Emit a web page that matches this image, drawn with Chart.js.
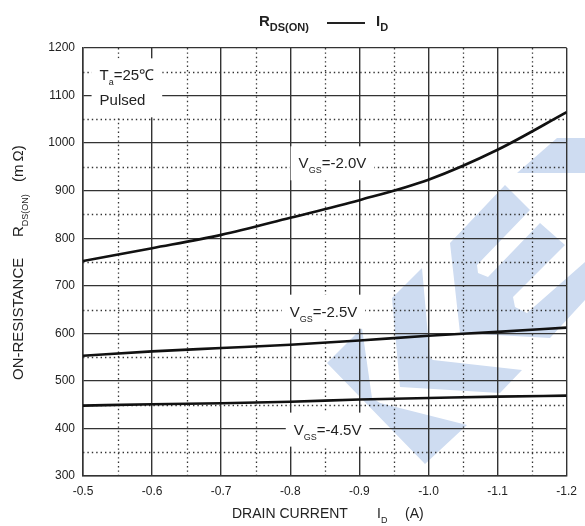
<!DOCTYPE html>
<html>
<head>
<meta charset="utf-8">
<script src="https://cdn.jsdelivr.net/npm/chart.js@4/dist/chart.umd.min.js"></script>
<style>
  html, body { margin: 0; padding: 0; background: #fff; }
  #wrap { position: relative; width: 585px; height: 526px; }
</style>
</head>
<body>
<div id="wrap"><canvas id="rdsChart"></canvas></div>
<script>
// R_DS(ON) vs I_D curves

const currents = [-0.5, -0.6, -0.7, -0.8, -0.9, -1.0, -1.1, -1.2];
const rdsVgs20 = [752, 779, 807, 843, 880, 923, 986, 1065];
const rdsVgs25 = [553, 562, 569, 576, 585, 595, 603, 612];
const rdsVgs45 = [448, 451, 453, 456, 461, 464, 467, 469];

const xTicks = [-0.5, -0.6, -0.7, -0.8, -0.9, -1.0, -1.1, -1.2];
const yTicks = [300, 400, 500, 600, 700, 800, 900, 1000, 1100, 1200];

const FONT = "'Liberation Sans', Arial, sans-serif";
const INK = '#222';

// in-plot labels (anchor in data units = text baseline), parts: [text, isSubscript]
const notes = [
    { at: [-0.524, 1132], align: 'left', rows: [[['T'], ['a', 1], ['=25\u2103']], [['Pulsed']]] },
    { at: [-0.861, 947], align: 'center', rows: [[['V'], ['GS', 1], ['=-2.0V']]] },
    { at: [-0.848, 635], align: 'center', rows: [[['V'], ['GS', 1], ['=-2.5V']]] },
    { at: [-0.854, 387], align: 'center', rows: [[['V'], ['GS', 1], ['=-4.5V']]] }
];

// faint watermark behind the grid (canvas pixels)
const logo = [
    [[517, 173], [557, 138], [585, 138], [585, 173]],
    [[450, 243], [505, 185], [530, 210], [477, 265], [478, 273], [488, 277], [540, 223], [565, 245],
     [513, 297], [515, 307], [527, 313], [585, 262], [585, 300], [550, 338], [460, 333]],
    [[392, 298], [422, 268], [430, 358], [433, 360], [522, 370], [500, 393], [400, 387]],
    [[327, 363], [362, 328], [372, 398], [380, 403], [467, 425], [425, 464]]
];

function toPoints(ys) {
    return currents.map((c, i) => ({ x: c, y: ys[i] }));
}

// draw text pieces with subscripts, returns width
function drawParts(ctx, x, y, parts, size, subSize, bold, measureOnly) {
    let w = 0;
    parts.forEach(p => {
        const sub = p[1];
        ctx.font = (bold ? 'bold ' : '') + (sub ? subSize : size) + 'px ' + FONT;
        if (!measureOnly) ctx.fillText(p[0], x + w, y + (sub ? 5 : 0));
        w += ctx.measureText(p[0]).width;
    });
    return w;
}

const decor = {
    id: 'decor',
    beforeDraw(chart) {
        const ctx = chart.ctx;
        ctx.save();
        ctx.fillStyle = 'rgb(206, 220, 241)';
        logo.forEach(poly => {
            ctx.beginPath();
            poly.forEach((p, i) => i ? ctx.lineTo(p[0], p[1]) : ctx.moveTo(p[0], p[1]));
            ctx.closePath();
            ctx.fill();
        });
        ctx.restore();
    },
    beforeDatasetsDraw(chart) {
        const ctx = chart.ctx;
        const area = chart.chartArea;
        const xs = chart.scales.x, ys = chart.scales.y;

        // dotted minor grid half way between the major ticks
        ctx.save();
        ctx.strokeStyle = '#333';
        ctx.lineWidth = 1.3;
        ctx.setLineDash([1.4, 3]);
        for (let i = 1; i < yTicks.length; i++) {
            const py = Math.round(ys.getPixelForValue((yTicks[i - 1] + yTicks[i]) / 2)) + 0.5;
            ctx.beginPath();
            ctx.moveTo(area.left, py);
            ctx.lineTo(area.right, py);
            ctx.stroke();
        }
        for (let i = 1; i < xTicks.length; i++) {
            const px = Math.round(xs.getPixelForValue((xTicks[i - 1] + xTicks[i]) / 2)) + 0.5;
            ctx.beginPath();
            ctx.moveTo(px, area.top);
            ctx.lineTo(px, area.bottom);
            ctx.stroke();
        }
        ctx.restore();

        // labels sitting on white boxes
        ctx.save();
        ctx.textBaseline = 'alphabetic';
        notes.forEach(n => {
            const ax = xs.getPixelForValue(n.at[0]);
            const ay = ys.getPixelForValue(n.at[1]);
            const widths = n.rows.map(r => drawParts(ctx, 0, 0, r, 15, 9, false, true));
            const maxW = Math.max(...widths);
            const left = n.align === 'left' ? ax : ax - maxW / 2;
            ctx.fillStyle = '#fff';
            ctx.fillRect(left - 8, ay - 22, maxW + 16, 34 + (n.rows.length - 1) * 25);
            ctx.fillStyle = INK;
            n.rows.forEach((r, i) => {
                const x0 = n.align === 'left' ? left : ax - widths[i] / 2;
                drawParts(ctx, x0, ay + i * 25, r, 15, 9, false, false);
            });
        });
        ctx.restore();
    },
    afterDraw(chart) {
        const ctx = chart.ctx;
        ctx.save();
        ctx.fillStyle = INK;
        ctx.textBaseline = 'alphabetic';

        // title
        drawParts(ctx, 259, 26, [['R'], ['DS(ON)', 1]], 15, 11, true, false);
        ctx.strokeStyle = INK;
        ctx.lineWidth = 2;
        ctx.beginPath();
        ctx.moveTo(327, 23);
        ctx.lineTo(365, 23);
        ctx.stroke();
        drawParts(ctx, 376, 26, [['I'], ['D', 1]], 15, 11, true, false);

        // x axis title
        drawParts(ctx, 232, 518, [['DRAIN CURRENT']], 14, 9, false, false);
        drawParts(ctx, 377, 518, [['I'], ['D', 1]], 14, 9, false, false);
        drawParts(ctx, 405, 518, [['(A)']], 14, 9, false, false);

        // y axis title, rotated
        ctx.translate(23, 380);
        ctx.rotate(-Math.PI / 2);
        drawParts(ctx, 0, 0, [['ON-RESISTANCE']], 15, 9, false, false);
        drawParts(ctx, 143, 0, [['R'], ['DS(ON)', 1]], 15, 9, false, false);
        drawParts(ctx, 198, 0, [['(m\u2009\u03A9)']], 15, 9, false, false);
        ctx.restore();
    }
};

function lineSet(label, ys) {
    return {
        label: label,
        data: toPoints(ys),
        borderColor: '#111',
        borderWidth: 2.6,
        pointRadius: 0,
        fill: false,
        cubicInterpolationMode: 'monotone'
    };
}

new Chart(document.getElementById('rdsChart'), {
    type: 'line',
    data: {
        datasets: [
            lineSet('VGS=-2.0V', rdsVgs20),
            lineSet('VGS=-2.5V', rdsVgs25),
            lineSet('VGS=-4.5V', rdsVgs45)
        ]
    },
    options: {
        responsive: true,
        maintainAspectRatio: false,
        animation: false,
        layout: { padding: { left: 0, right: 12, top: 48, bottom: 0 } },
        plugins: {
            legend: { display: false },
            title: { display: false },
            tooltip: { enabled: false }
        },
        scales: {
            x: {
                type: 'linear',
                reverse: true,
                min: -1.2,
                max: -0.5,
                afterBuildTicks: s => { s.ticks = xTicks.map(v => ({ value: v })); },
                afterFit: s => { s.height = 50; },
                grid: { color: '#333', lineWidth: 1.4, drawTicks: false },
                border: { color: '#333', width: 1.5 },
                ticks: {
                    padding: 8,
                    color: INK,
                    font: { family: FONT, size: 12 },
                    callback: v => v.toFixed(1)
                }
            },
            y: {
                type: 'linear',
                min: 300,
                max: 1200,
                afterBuildTicks: s => { s.ticks = yTicks.map(v => ({ value: v })); },
                afterFit: s => { s.width = 83; },
                grid: { color: '#333', lineWidth: 1.3, drawTicks: false },
                border: { color: '#333', width: 1.5 },
                ticks: {
                    padding: 8,
                    color: INK,
                    font: { family: FONT, size: 12 },
                    callback: v => String(v)
                }
            }
        }
    },
    plugins: [decor]
});
</script>
</body>
</html>
